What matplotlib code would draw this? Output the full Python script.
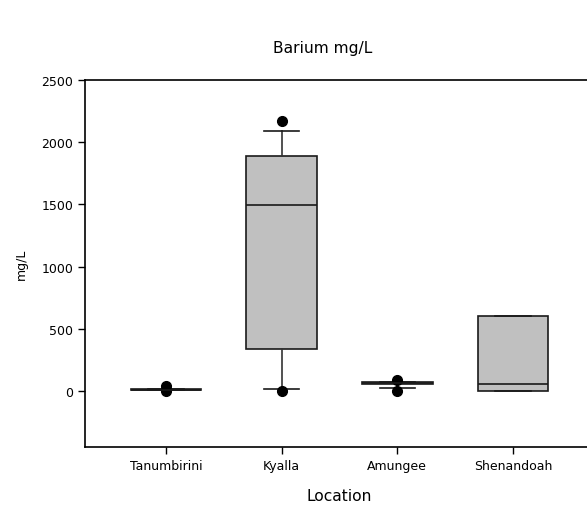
import matplotlib.pyplot as plt

plt.rcParams['font.family'] = ['DejaVu Sans']

# Box summary per location (mg/L)
locations = ["Tanumbirini", "Kyalla", "Amungee", "Shenandoah"]
whisker_low = [5, 15, 25, 0]
q1 = [5, 338, 55, 0]
median = [10, 1495, 64, 56]
q3 = [15, 1889, 72, 603]
whisker_high = [20, 2090, 75, 603]
outliers = [[40, 0], [2170, 0], [85, 0], []]

stats = []
for i, name in enumerate(locations):
    stats.append({
        'label': name,
        'whislo': whisker_low[i],
        'q1': q1[i],
        'med': median[i],
        'q3': q3[i],
        'whishi': whisker_high[i],
        'fliers': outliers[i],
    })

fig = plt.figure(figsize=(5.87, 5.10), dpi=100)
W, H = 587, 510
# axes runs a bit past the right edge of the figure
ax = fig.add_axes([85 / W, 1 - 448 / H, (594 - 85) / W, (448 - 81) / H])

ax.bxp(stats, positions=[1, 2, 3, 4], widths=0.61, patch_artist=True,
       boxprops=dict(facecolor='#c0c0c0', edgecolor='#1a1a1a', linewidth=1.2),
       medianprops=dict(color='#1a1a1a', linewidth=1.2),
       whiskerprops=dict(color='#333333', linewidth=1.2),
       capprops=dict(color='#1a1a1a', linewidth=1.2),
       flierprops=dict(marker='o', markerfacecolor='black', markeredgecolor='black',
                       markersize=7))

ax.set_xlim(0.3, 4.7)
ax.set_ylim(-450, 2500)
ax.set_yticks([0, 500, 1000, 1500, 2000, 2500])
ax.set_xticks([1, 2, 3, 4])
ax.set_xticklabels(locations)
ax.tick_params(direction='out', length=5, width=1, labelsize=9, colors='black')
ax.spines['right'].set_visible(False)
for s in ['left', 'bottom', 'top']:
    ax.spines[s].set_linewidth(1.2)

ax.set_ylabel("mg/L", fontsize=9, labelpad=10)
ax.set_xlabel("Location", fontsize=11.2, labelpad=12)
fig.text(323 / W, 1 - 48 / H, "Barium mg/L", fontsize=11.2, ha='center', va='center')

fig.savefig("out.png", dpi=100)
